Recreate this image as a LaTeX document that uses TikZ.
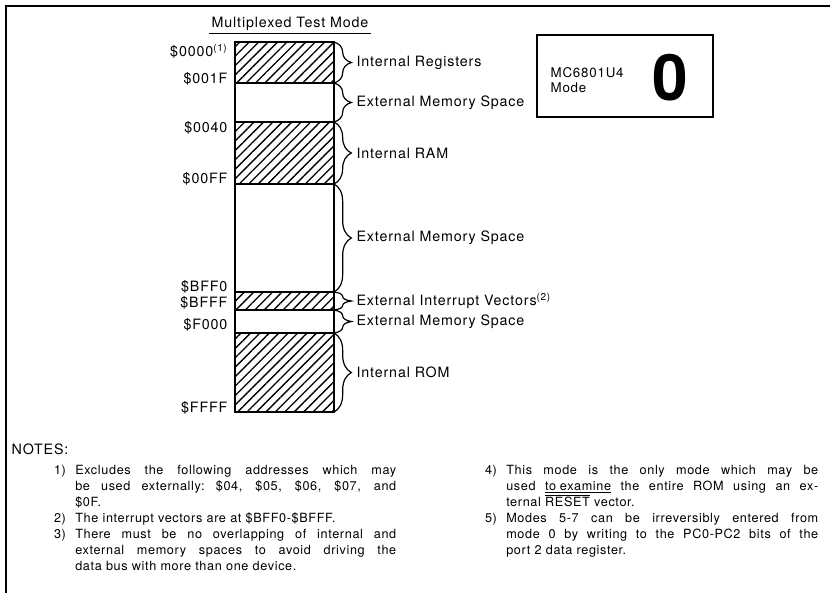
\documentclass[tikz,border=0pt]{standalone}
\usepackage{fontspec}
\setmainfont{TeX Gyre Heros}
\newfontfamily\lblfont[LetterSpace=6]{TeX Gyre Heros}
\newfontfamily\notefont[LetterSpace=5]{TeX Gyre Heros}
\usetikzlibrary{decorations.pathreplacing,patterns.meta}
\newcommand{\fullline}[2][240.75pt]{{\spaceskip=0.3em plus 1fil\xspaceskip=0.3em plus 1fil\makebox[#1][s]{#2}}}
\newcommand{\noteno}[1]{\leavevmode\llap{#1\hspace{7pt}}}

\begin{document}
\begin{tikzpicture}[x=0.75pt,y=-0.75pt,
  lbl/.style={font=\lblfont\fontsize{10.7}{12}\selectfont,inner sep=1pt},
  addr/.style={lbl,anchor=east},
  hatched/.style={draw,line width=1.4pt,pattern={Lines[angle=45,distance=5pt,line width=1pt]}},
  plain/.style={draw,line width=1.4pt},
  brc/.style={decorate,decoration={brace,amplitude=13pt},line width=0.9pt},
  notes/.style={font=\notefont\fontsize{9.5}{12}\selectfont,align=left,anchor=north west,inner sep=0pt}]
\useasboundingbox (0,0) rectangle (830,593);
\draw[line width=1.2pt] (830,6) -- (6,6) -- (6,593);

% memory map
\node[lbl,inner sep=2pt] (title) at (290,24) {Multiplexed Test Mode};
\draw[line width=0.8pt] (title.south west) -- (title.south east);
\foreach \i/\ya/\yb/\st/\txt in {1/42/83/hatched/Internal Registers,
    2/83/122/plain/External Memory Space,
    3/122/184/hatched/Internal RAM,
    4/184/292/plain/External Memory Space,
    5/292/310/hatched/External Interrupt Vectors\textsuperscript{(2)},
    6/310/333/plain/External Memory Space,
    7/333/412/hatched/Internal ROM}
{
  \draw[\st] (235,\ya) rectangle (334,\yb);
  \coordinate (t\i) at (334,\ya);
  \coordinate (b\i) at (334,\yb);
  \draw[brc] (t\i) -- (b\i);
  \node[lbl,anchor=west] (m\i) at (355,{(\ya+\yb)/2}) {\txt};
}

% addresses
\node[addr] (a0000) at (229,51) {\$0000\textsuperscript{(1)}};
\node[addr] (a001F) at (229,79) {\$001F};
\node[addr] (a0040) at (229,128) {\$0040};
\node[addr] (a00FF) at (229,179) {\$00FF};
\node[addr] (aBFF0) at (229,287) {\$BFF0};
\node[addr] (aBFFF) at (229,303) {\$BFFF};
\node[addr] (aF000) at (229,325) {\$F000};
\node[addr] (aFFFF) at (229,408) {\$FFFF};

% mode box
\node[draw,line width=1.2pt,minimum width=132pt,minimum height=61.5pt,inner sep=0pt] (modebox) at (625,76) {};
\node[lbl,anchor=west,align=left,font=\lblfont\fontsize{10}{10.8}\selectfont] (chip) at (549,80) {MC6801U4\\Mode};
\node[font=\fontsize{48}{48}\selectfont\bfseries,inner sep=0pt] (modeno) at (670,78) {0};

% notes
\node[lbl,anchor=west] (notes) at (10,449) {NOTES:};
\node[notes,text width=240.75pt] (leftnotes) at (75,465) {%
\noteno{1)}\fullline{Excludes the following addresses which may}\\
\fullline{be used externally: \$04, \$05, \$06, \$07, and}\\
\$0F.\\
\noteno{2)}The interrupt vectors are at \$BFF0-\$BFFF.\\
\noteno{3)}\fullline{There must be no overlapping of internal and}\\
\fullline{external memory spaces to avoid driving the}\\
data bus with more than one device.};
\node[notes,text width=234pt] (rightnotes) at (506,465) {%
\noteno{4)}\fullline[234pt]{This mode is the only mode which may be}\\
\fullline[234pt]{used \underline{to examine} the entire ROM using an ex-}\\
ternal $\overline{\mbox{RESET}}$ vector.\\
\noteno{5)}\fullline[234pt]{Modes 5-7 can be irreversibly entered from}\\
\fullline[234pt]{mode 0 by writing to the PC0-PC2 bits of the}\\
port 2 data register.};
\end{tikzpicture}
\end{document}
